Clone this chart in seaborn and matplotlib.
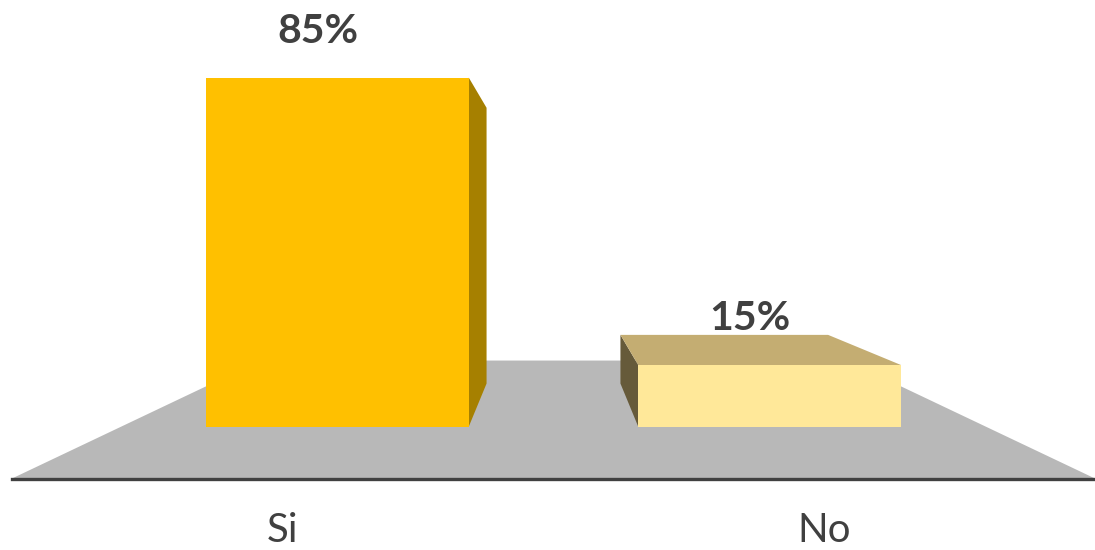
import pandas as pd
import matplotlib
matplotlib.use('Agg')
import matplotlib.pyplot as plt
from matplotlib.patches import Polygon
import seaborn as sns

categories = ['Si', 'No']
percentages = [85, 15]
value_labels = ['85%', '15%']

front_colors = ['#FFC000', '#FFE899']
side_colors = ['#A68000', '#665A3A']
top_colors = ['#C9A300', '#C4AD72']
floor_color = '#B8B8B8'
text_color = '#404040'

# fake 3d: everything is projected towards a vanishing point
vp_x, vp_y = 0.5, 50
k_front = 1.2525   # front edge of the floor
k_back = 0.79      # back face of the bars
k_floor = 0.678    # back edge of the floor
bar_width = 0.608


def proj(x, y, k):
    return (vp_x + (x - vp_x) * k, vp_y + (y - vp_y) * k)


sns.set_theme(style='white')
plt.rcParams['font.family'] = ['Lato', 'DejaVu Sans']

fig = plt.figure(figsize=(10.95, 5.5), dpi=100)
ax = fig.add_axes([12 / 1095, (550 - 478.5) / 550, 1083 / 1095, 478.5 / 550])

df = pd.DataFrame({'answer': categories, 'pct': percentages})
sns.barplot(data=df, x='answer', y='pct', hue='answer', palette=front_colors,
            width=bar_width, saturation=1, legend=False, linewidth=0,
            zorder=3, ax=ax)

# floor
n = len(categories)
floor = [proj(-0.5, 0, k_front), proj(n - 0.5, 0, k_front),
         proj(n - 0.5, 0, k_floor), proj(-0.5, 0, k_floor)]
ax.add_patch(Polygon(floor, closed=True, facecolor=floor_color,
                     edgecolor='none', zorder=1))

# side and top faces of each bar
for i, bar in enumerate(ax.patches[:n]):
    x0 = bar.get_x()
    x1 = x0 + bar.get_width()
    h = bar.get_height()
    if x1 < vp_x:
        face = [(x1, 0), (x1, h), proj(x1, h, k_back), proj(x1, 0, k_back)]
        ax.add_patch(Polygon(face, facecolor=side_colors[i], edgecolor='none', zorder=2))
    if x0 > vp_x:
        face = [(x0, 0), (x0, h), proj(x0, h, k_back), proj(x0, 0, k_back)]
        ax.add_patch(Polygon(face, facecolor=side_colors[i], edgecolor='none', zorder=2))
    if h < vp_y:
        face = [(x0, h), (x1, h), proj(x1, h, k_back), proj(x0, h, k_back)]
        ax.add_patch(Polygon(face, facecolor=top_colors[i], edgecolor='none', zorder=2))
    ax.text(x0 + bar.get_width() / 2 - 0.046, h + 8.5, value_labels[i],
            ha='center', va='baseline', fontsize=29.5, fontweight='bold',
            color=text_color, zorder=4)

ax.set_xlim(proj(-0.5, 0, k_front)[0], proj(n - 0.5, 0, k_front)[0])
ax.set_ylim(proj(0, 0, k_front)[1], 103.9)

ax.set_xticks([proj(i, 0, k_front)[0] for i in range(n)])
ax.set_xticklabels(categories)
ax.set_yticks([])
ax.set_xlabel('')
ax.set_ylabel('')
ax.tick_params(axis='x', length=0, pad=24, labelsize=29, labelcolor=text_color)

for s in ['left', 'top', 'right']:
    ax.spines[s].set_visible(False)
ax.spines['bottom'].set_color(text_color)
ax.spines['bottom'].set_linewidth(2.4)
ax.spines['bottom'].set_zorder(5)

fig.savefig('out.png', dpi=100)
